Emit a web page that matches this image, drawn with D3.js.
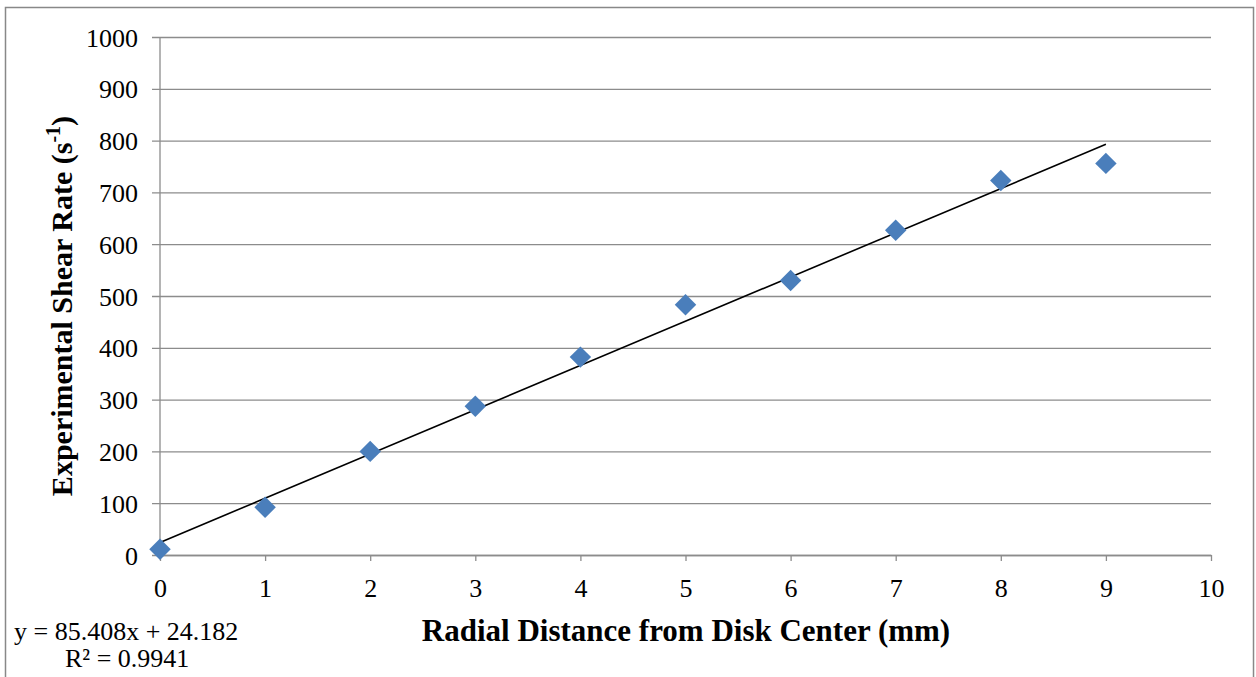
<!DOCTYPE html>
<html>
<head>
<meta charset="utf-8">
<script src="https://cdn.jsdelivr.net/npm/d3@7"></script>
<style>
  body { margin: 0; background: #fff; }
  svg text { font-family: "Liberation Serif", "Times New Roman", serif; fill: #000; }
</style>
</head>
<body>
<div id="chart"></div>
<script>
'use strict';

const distances = [0, 1, 2, 3, 4, 5, 6, 7, 8, 9];
const shearRates = [11, 92, 200, 287, 382, 483, 530, 627, 723, 756];
const xTicks = [0, 1, 2, 3, 4, 5, 6, 7, 8, 9, 10];
const yTicks = [0, 100, 200, 300, 400, 500, 600, 700, 800, 900, 1000];
const fitSlope = 85.408, fitIntercept = 24.182;

var W = 1256, H = 677,
    padl = 160, padt = 37, plotW = 1051, plotH = 518,
    x = d3.scaleLinear().domain([0, 10]).range([0, plotW]),
    y = d3.scaleLinear().domain([0, 1000]).range([plotH, 0]);

var svg = d3.select('#chart').append('svg')
    .attr('width', W)
    .attr('height', H);

// outer frame
svg.append('rect')
  .attr('x', 5.5).attr('y', 7.5)
  .attr('width', 1248).attr('height', 680)
  .attr('fill', 'none').attr('stroke', '#888').attr('stroke-width', 1.5);

var vis = svg.append('g')
    .attr('transform', 'translate(' + padl + ',' + padt + ')');

// gridlines + y axis
var yAxis = d3.axisLeft(y).tickValues(yTicks).tickFormat(d3.format('d'))
    .tickSize(-plotW).tickSizeOuter(0).tickPadding(22);
var gy = vis.append('g').attr('class', 'y axis').call(yAxis);
gy.select('.domain').remove();
gy.selectAll('line').attr('stroke', '#8c8c8c').attr('stroke-width', 1.3).attr('x1', -8);
gy.selectAll('text').style('font-size', '26px').attr('dy', '0.35em');

var xAxis = d3.axisBottom(x).tickValues(xTicks).tickSize(6).tickSizeOuter(0).tickPadding(18);
var gx = vis.append('g').attr('class', 'x axis')
    .attr('transform', 'translate(0,' + plotH + ')')
    .call(xAxis);
gx.select('.domain').attr('stroke', '#8c8c8c').attr('stroke-width', 1.3);
gx.selectAll('line').attr('stroke', '#8c8c8c').attr('stroke-width', 1.3);
gx.selectAll('text').style('font-size', '26px');

// vertical axis line
vis.append('line')
  .attr('x1', 0).attr('x2', 0).attr('y1', 0).attr('y2', plotH)
  .attr('stroke', '#8c8c8c').attr('stroke-width', 1.3);

// linear trendline
vis.append('line')
  .attr('x1', x(0)).attr('y1', y(fitIntercept))
  .attr('x2', x(9)).attr('y2', y(fitSlope * 9 + fitIntercept))
  .attr('stroke', '#000').attr('stroke-width', 1.6);

// points
vis.selectAll('path.pt')
  .data(distances)
  .enter().append('path')
  .attr('class', 'pt')
  .attr('d', d3.symbol().type(d3.symbolSquare).size(230))
  .attr('transform', (d, i) => 'translate(' + x(d) + ',' + y(shearRates[i]) + ') rotate(45)')
  .attr('fill', '#4a7ebb');

// axis titles
svg.append('text')
  .attr('x', 686).attr('y', 641)
  .attr('text-anchor', 'middle')
  .style('font-size', '31px').style('font-weight', 'bold')
  .text('Radial Distance from Disk Center (mm)');

var yt = svg.append('text')
  .attr('transform', 'translate(72,' + (padt + plotH / 2 + 10) + ') rotate(-90)')
  .attr('text-anchor', 'middle')
  .style('font-size', '30px').style('font-weight', 'bold');
yt.append('tspan').text('Experimental Shear Rate (s');
yt.append('tspan').attr('dy', -12).style('font-size', '20px').text('-1');
yt.append('tspan').attr('dy', 12).text(')');

// fit equation
svg.append('text').attr('x', 14).attr('y', 640).style('font-size', '26px')
  .text('y = ' + fitSlope + 'x + ' + fitIntercept);
svg.append('text').attr('x', 65).attr('y', 667).style('font-size', '26px')
  .text('R² = 0.9941');
</script>
</body>
</html>
